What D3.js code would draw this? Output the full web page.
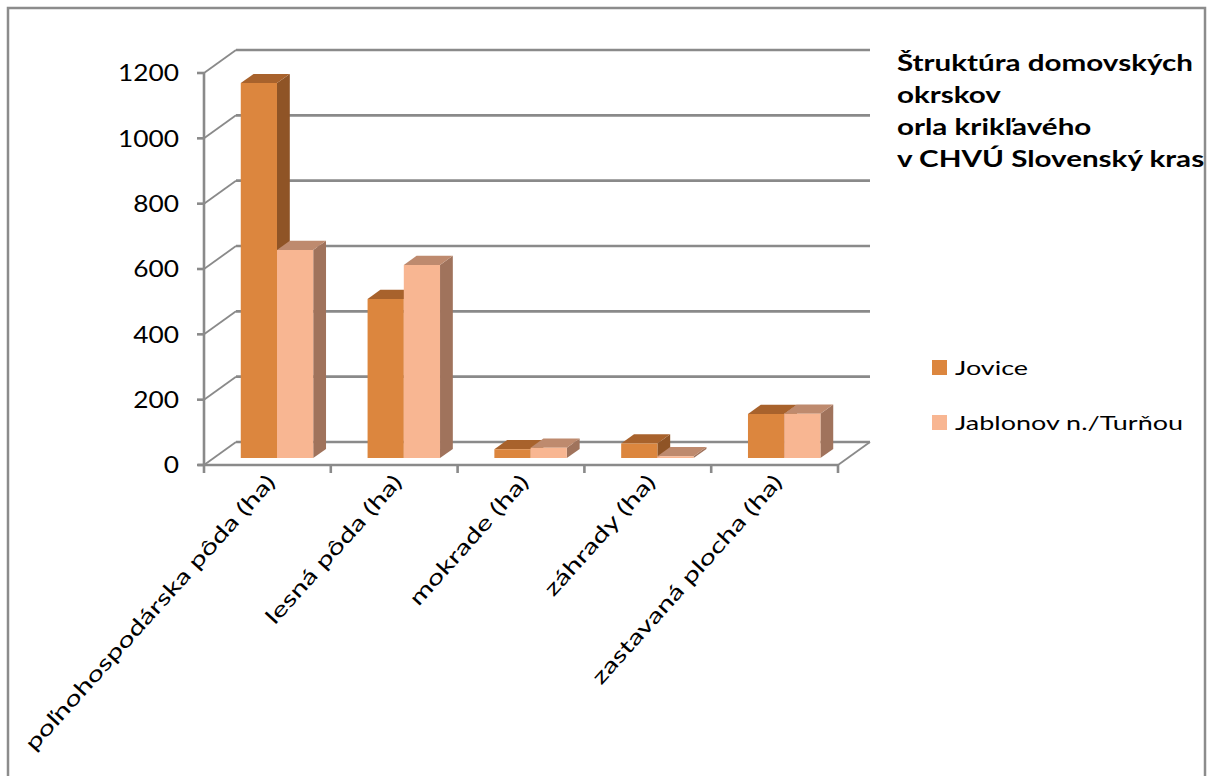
<!DOCTYPE html>
<html>
<head>
<meta charset="utf-8">
<script src="https://cdn.jsdelivr.net/npm/d3@7"></script>
<style>
  html, body { margin: 0; padding: 0; background: #fff; }
  svg { display: block; }
  text { font-family: Lato, "Open Sans", "DejaVu Sans", sans-serif; fill: #000; }
</style>
</head>
<body>
<svg id="chart" width="1210" height="776"></svg>
<script>
// Land-use categories of the home ranges (hectares)
const categories = [
  "poľnohospodárska pôda (ha)",
  "lesná pôda (ha)",
  "mokrade (ha)",
  "záhrady (ha)",
  "zastavaná plocha (ha)"
];
const seriesNames = ["Jovice", "Jablonov n./Turňou"];
const joviceValues = [1148, 487, 27, 45, 135];
const jablonovValues = [637, 591, 32, 6, 136];
const yTicks = [0, 200, 400, 600, 800, 1000, 1200];
const titleLines = [
  "Štruktúra domovských",
  "okrskov",
  "orla krikľavého",
  "v CHVÚ Slovenský kras"
];

const series = [joviceValues, jablonovValues];
const palette = [
  { front: "#dc863e", top: "#a8622c", side: "#8f5426" },
  { front: "#f8b692", top: "#be8a6e", side: "#a0735c" }
];

const svg = d3.select("#chart");

// Oblique 3D projection: depth 0 = front plane, depth 1 = back wall
const DX = 32, DY = -23;
const proj = (x, y, d) => [x + DX * d, y + DY * d];

const x = d3.scaleBand().domain(categories).range([204, 838]).paddingInner(0).paddingOuter(0);
const y = d3.scaleLinear().domain([0, 1200]).range([465, 73]);

// Bars: gap width 150% of a bar, two bars per category
const barW = x.bandwidth() / 3.5;
const gapHalf = barW * 0.75;
const D0 = 0.3, D1 = 0.7;

// Outer frame of the chart area
svg.append("rect")
  .attr("x", 8).attr("y", 8).attr("width", 1197).attr("height", 800)
  .attr("fill", "none").attr("stroke", "#8c8c8c").attr("stroke-width", 2.5);

const grid = svg.append("g").attr("stroke", "#8a8a8a").attr("stroke-width", 2.6).attr("fill", "none");

// Back wall gridlines
grid.selectAll("line.gl").data(yTicks).join("line")
  .attr("class", "gl")
  .attr("x1", d => proj(x.range()[0], y(d), 1)[0])
  .attr("x2", d => proj(x.range()[1], y(d), 1)[0])
  .attr("y1", d => proj(0, y(d), 1)[1])
  .attr("y2", d => proj(0, y(d), 1)[1]);

// Side wall edges running from the front axis to the back wall
grid.selectAll("line.sw").data(yTicks).join("line")
  .attr("class", "sw")
  .attr("stroke-width", 1.8)
  .attr("x1", x.range()[0]).attr("y1", d => y(d))
  .attr("x2", d => proj(x.range()[0], y(d), 1)[0])
  .attr("y2", d => proj(x.range()[0], y(d), 1)[1]);

// Vertical value axis with outside ticks
grid.append("line")
  .attr("x1", x.range()[0]).attr("x2", x.range()[0])
  .attr("y1", y(0) + 1).attr("y2", y(1200));
grid.selectAll("line.yt").data(yTicks).join("line")
  .attr("class", "yt")
  .attr("x1", x.range()[0] - 7).attr("x2", x.range()[0])
  .attr("y1", d => y(d)).attr("y2", d => y(d));

// Floor: front edge, right edge and category ticks
grid.append("line")
  .attr("x1", x.range()[0] - 6).attr("x2", x.range()[1])
  .attr("y1", y(0)).attr("y2", y(0));
grid.append("line")
  .attr("stroke-width", 1.8)
  .attr("x1", x.range()[1]).attr("y1", y(0))
  .attr("x2", proj(x.range()[1], y(0), 1)[0]).attr("y2", proj(x.range()[1], y(0), 1)[1]);
const catEdges = categories.map(c => x(c)).concat([x.range()[1]]);
grid.selectAll("line.xt").data(catEdges).join("line")
  .attr("class", "xt")
  .attr("x1", d => d).attr("x2", d => d)
  .attr("y1", y(0)).attr("y2", y(0) + 8);

// 3D columns
const bars = [];
categories.forEach((c, i) => {
  series.forEach((vals, s) => {
    bars.push({ cat: c, s, v: vals[i] });
  });
});

const barG = svg.append("g");
bars.forEach(b => {
  const xl = x(b.cat) + gapHalf + b.s * barW;
  const xr = xl + barW;
  const yb = y(0), yt = y(b.v);
  const p = palette[b.s];
  const fBL = proj(xl, yb, D0), fBR = proj(xr, yb, D0);
  const fTL = proj(xl, yt, D0), fTR = proj(xr, yt, D0);
  const kTL = proj(xl, yt, D1), kTR = proj(xr, yt, D1), kBR = proj(xr, yb, D1);
  const g = barG.append("g");
  g.append("path")
    .attr("d", d3.line()([fBR, fTR, kTR, kBR]) + "Z")
    .attr("fill", p.side);
  g.append("path")
    .attr("d", d3.line()([fTL, fTR, kTR, kTL]) + "Z")
    .attr("fill", p.top);
  g.append("path")
    .attr("d", d3.line()([fBL, fBR, fTR, fTL]) + "Z")
    .attr("fill", p.front);
});

// Stretch text horizontally so a reference string reaches a given width
function widen(sel, refNode, target) {
  const k = target / refNode.getComputedTextLength();
  sel.each(function () {
    const len = this.getComputedTextLength();
    d3.select(this).attr("textLength", len * k).attr("lengthAdjust", "spacingAndGlyphs");
  });
}

// Value axis labels
const yLab = svg.append("g").selectAll("text").data(yTicks).join("text")
  .attr("x", 179).attr("y", d => y(d))
  .attr("dy", "0.36em")
  .attr("text-anchor", "end")
  .attr("font-size", 23)
  .text(d => d);
widen(yLab, yLab.nodes()[6], 61);

// Category labels, rotated
const xLab = svg.append("g").selectAll("text").data(categories).join("text")
  .attr("text-anchor", "end")
  .attr("font-size", 21)
  .attr("transform", d => `translate(${x(d) + x.bandwidth() / 2 + 9},${y(0) + 18}) rotate(-48)`)
  .text(d => d);
widen(xLab, xLab.nodes()[0], 362);

// Title
const tit = svg.append("g").selectAll("text").data(titleLines).join("text")
  .attr("x", 897).attr("y", (d, i) => 71 + i * 32)
  .attr("font-size", 22).attr("font-weight", 700)
  .text(d => d);
widen(tit, tit.nodes()[0], 296);

// Legend
const leg = svg.append("g").selectAll("g").data(seriesNames).join("g")
  .attr("transform", (d, i) => `translate(932,${360 + i * 55})`);
leg.append("rect").attr("width", 15).attr("height", 15)
  .attr("fill", (d, i) => palette[i].front);
const legText = leg.append("text").attr("x", 23).attr("y", 8).attr("dy", "0.36em")
  .attr("font-size", 20).text(d => d);
widen(legText, legText.nodes()[1], 228);
</script>
</body>
</html>
